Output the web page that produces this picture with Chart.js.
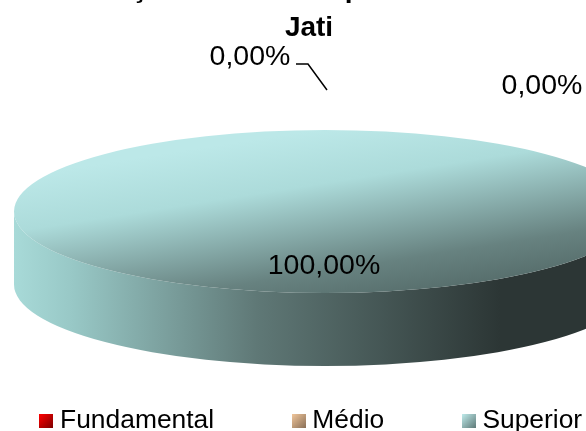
<!DOCTYPE html>
<html>
<head>
<meta charset="utf-8">
<style>
  html, body { margin: 0; padding: 0; background: #fff; overflow: hidden; }
  #wrap { width: 586px; height: 431px; overflow: hidden; }
</style>
<script src="https://cdn.jsdelivr.net/npm/chart.js@4/dist/chart.umd.js"></script>
</head>
<body>
<div id="wrap"><canvas id="pieChart" width="720" height="431"></canvas></div>
<script>
// data
const categories = ['Fundamental', 'Médio', 'Superior'];
const percentages = [0, 0, 100];
const titleLines = ['Formação do docente por Escolaridade', 'Jati'];

// legend colours, light to dark
const swatchColors = [['#ff0000', '#7a0000'], ['#f2c79c', '#8a7058'], ['#c0ecec', '#5f7a78']];

// where the flat pie goes on the page
const pieX = 325, pieY = 211.5, squash = 0.262, wallDepth = 73;

const canvas = document.getElementById('pieChart');
const ctx = canvas.getContext('2d');

// the slices are squashed afterwards, so this is measured from the unsquashed centre
function topGradient(context) {
  const area = context.chart.chartArea;
  if (!area) return swatchColors[2][0];
  const cx = (area.left + area.right) / 2, cy = (area.top + area.bottom) / 2;
  const g = ctx.createLinearGradient(cx - 193, cy - 311, cx + 207, cy + 359);
  g.addColorStop(0.12, '#bce8e8');
  g.addColorStop(0.35, '#acdbda');
  g.addColorStop(0.72, '#678280');
  g.addColorStop(1, '#4a5e5c');
  return g;
}

function wallGradient() {
  const g = ctx.createLinearGradient(14, 0, 500, 0);
  g.addColorStop(0, '#a8dad8');
  g.addColorStop(0.12, '#98c8c6');
  g.addColorStop(0.5, '#5f7876');
  g.addColorStop(1, '#2c3635');
  return g;
}

function swatch(colors) {
  const c = document.createElement('canvas');
  c.width = 14;
  c.height = 14;
  const s = c.getContext('2d');
  const g = s.createLinearGradient(0, 0, 14, 14);
  g.addColorStop(0, colors[0]);
  g.addColorStop(1, colors[1]);
  s.fillStyle = g;
  s.fillRect(0, 0, 14, 14);
  return c;
}

const pieTransform = arc => {
  ctx.translate(pieX, pieY);
  ctx.scale(1, squash);
  ctx.translate(-arc.x, -arc.y);
};

// side wall under the slices, then squash the slices themselves
const tiltPlugin = {
  id: 'tilt',
  beforeDatasetDraw(chart, args) {
    const arcs = chart.getDatasetMeta(args.index).data;
    ctx.save();
    ctx.fillStyle = wallGradient();
    arcs.forEach(arc => {
      if (arc.circumference === 0) return;
      const ry = arc.outerRadius * squash;
      ctx.beginPath();
      ctx.ellipse(pieX, pieY, arc.outerRadius, ry, 0, Math.PI, 0, true);
      ctx.ellipse(pieX, pieY + wallDepth, arc.outerRadius, ry, 0, 0, Math.PI);
      ctx.closePath();
      ctx.fill();
    });
    ctx.restore();
    ctx.save();
    pieTransform(arcs[0]);
  },
  afterDatasetDraw() {
    ctx.restore();
  }
};

// move title and legend out of the space the pie needs
const placePlugin = {
  id: 'place',
  afterLayout(chart) {
    const l = chart.legend;
    const shiftX = -46;
    l.left += shiftX;
    l.right += shiftX;
    l.top = 324;
    l.bottom = 600;
    const t = chart.titleBlock;
    t.left -= 51;
    t.right -= 51;
    t.top = -31;
  }
};

// percentage labels and the one leader line
const labelSpots = [[250, 57], [542, 86], [324, 266]];
const labelPlugin = {
  id: 'pctLabels',
  afterDraw() {
    ctx.save();
    ctx.font = '28.5px "Liberation Sans"';
    ctx.fillStyle = '#000';
    ctx.textAlign = 'center';
    ctx.textBaseline = 'middle';
    percentages.forEach((v, i) => {
      ctx.fillText(v.toFixed(2).replace('.', ',') + '%', labelSpots[i][0], labelSpots[i][1]);
    });
    ctx.strokeStyle = '#000';
    ctx.lineWidth = 1.5;
    ctx.beginPath();
    ctx.moveTo(296, 64);
    ctx.lineTo(308, 64);
    ctx.lineTo(327, 90);
    ctx.stroke();
    ctx.restore();
  }
};

const data = {
  labels: categories,
  datasets: [{
    data: percentages,
    backgroundColor: topGradient,
    borderWidth: 0,
    clip: false
  }]
};

const config = {
  type: 'pie',
  data,
  options: {
    responsive: false,
    animation: false,
    radius: 311,
    plugins: {
      tooltip: { enabled: false },
      title: {
        display: true,
        text: titleLines,
        color: '#000',
        font: { family: '"Liberation Sans"', size: 28, weight: 'bold', lineHeight: 1.42 },
        padding: 0
      },
      legend: {
        position: 'bottom',
        labels: {
          color: '#000',
          font: { family: '"Liberation Sans"', size: 26.4 },
          padding: 84,
          usePointStyle: true,
          pointStyleWidth: 1,
          generateLabels: () => categories.map((text, i) => ({
            text,
            index: i,
            fontColor: '#000',
            pointStyle: swatch(swatchColors[i])
          }))
        }
      }
    }
  },
  plugins: [tiltPlugin, placePlugin, labelPlugin]
};

const pieChart = new Chart(canvas, config);
</script>
</body>
</html>
